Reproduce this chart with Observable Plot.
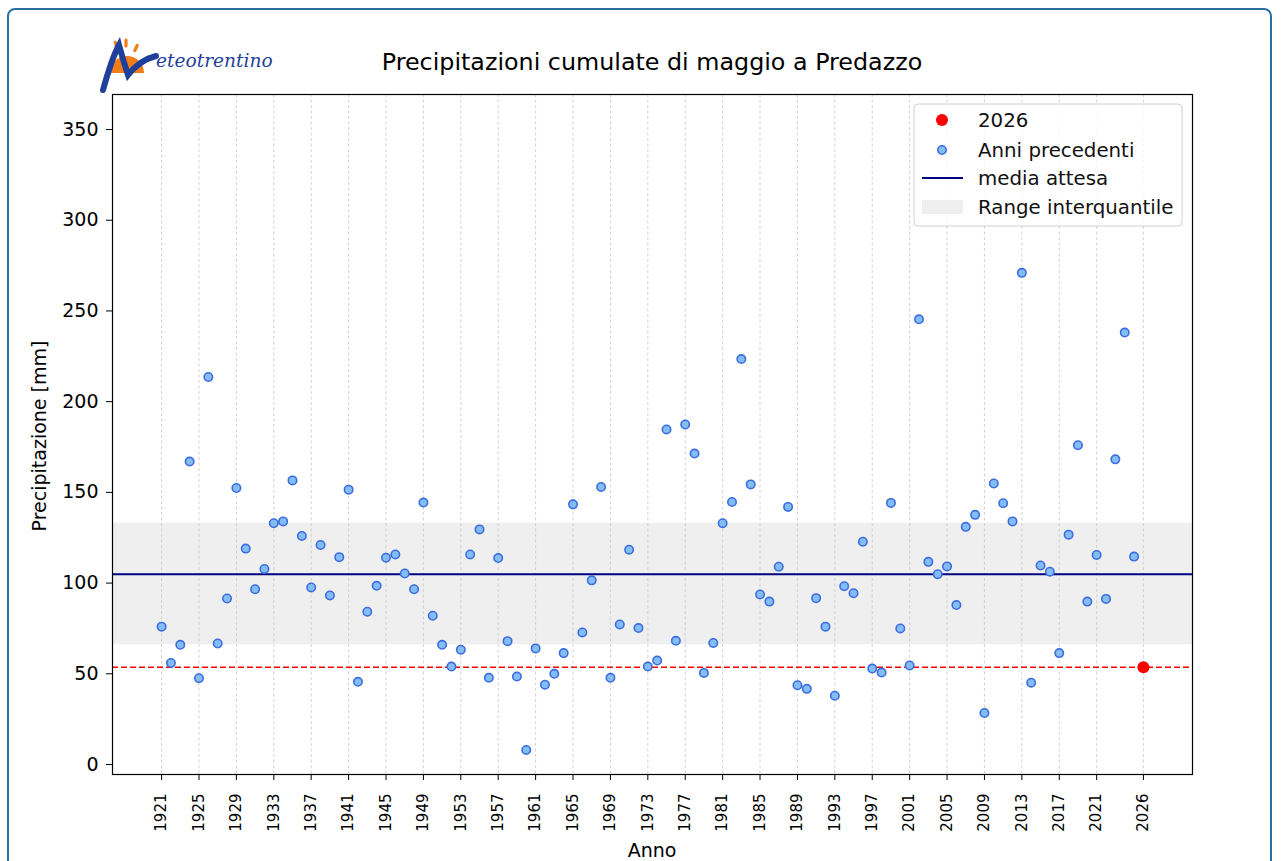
<!DOCTYPE html>
<html>
<head>
<meta charset="utf-8">
<script src="https://cdn.jsdelivr.net/npm/d3@7"></script>
<script src="https://cdn.jsdelivr.net/npm/@observablehq/plot@0.6"></script>
<style>
  body { margin: 0; background: #fff; }
  #fig { position: relative; width: 1282px; height: 861px; overflow: hidden; background: #fff; font-family: "DejaVu Sans", sans-serif; }
  #border { position: absolute; left: 7px; top: 8px; width: 1265px; height: 900px; border: 2px solid #2b6f9e; border-radius: 8px; box-sizing: border-box; }
  #chart { position: absolute; left: 0; top: 0; }
  #overlay { position: absolute; left: 0; top: 0; pointer-events: none; }
</style>
</head>
<body>
<div id="fig">
  <div id="border"></div>
  <div id="chart"></div>
  <svg id="overlay" width="1282" height="861" font-family="DejaVu Sans, sans-serif"></svg>
</div>
<script>
// ---- data ----
const firstYear = 1921;
const precipitazione = [
  76, 56, 66, 167, 47.6, 213.6, 66.7, 91.5, 152.4, 119,
  96.6, 107.8, 133, 134, 156.6, 126, 97.6, 121, 93.2, 114.3,
  151.5, 45.6, 84.2, 98.5, 114, 115.8, 105.3, 96.6, 144.4, 82,
  66, 54, 63.3, 115.8, 129.6, 47.8, 113.8, 68, 48.5, 8,
  64, 44, 50, 61.4, 143.4, 72.8, 101.5, 153, 47.8, 77.2,
  118.4, 75.2, 54, 57.3, 184.7, 68.2, 187.4, 171.4, 50.5, 67,
  133, 144.7, 223.5, 154.4, 93.7, 89.8, 109, 142, 43.7, 41.7,
  91.7, 76, 37.9, 98.3, 94.4, 122.8, 52.9, 50.7, 144.2, 75,
  54.6, 245.4, 111.7, 104.9, 109.2, 87.9, 131, 137.6, 28.4, 154.9,
  144, 134, 271, 45.1, 109.7, 106.3, 61.4, 126.7, 176, 89.8,
  115.5, 91.3, 168.2, 238.1, 114.6
];
const anni = precipitazione.map((_, i) => firstYear + i);
const annoCorrente = 2026;
const valoreCorrente = 53.6;
const mediaAttesa = 104.9;
const quartileBasso = 66;
const quartileAlto = 133;
const tickAnni = [1921,1925,1929,1933,1937,1941,1945,1949,1953,1957,1961,1965,1969,1973,1977,1981,1985,1989,1993,1997,2001,2005,2009,2013,2017,2021,2026];
const tickY = [0, 50, 100, 150, 200, 250, 300, 350];
const titolo = "Precipitazioni cumulate di maggio a Predazzo";
const etichettaY = "Precipitazione [mm]";
const etichettaX = "Anno";
const legenda = ["2026", "Anni precedenti", "media attesa", "Range interquantile"];

const passati = anni.map((a, i) => ({anno: a, valore: precipitazione[i]}));
const corrente = [{anno: annoCorrente, valore: valoreCorrente}];

const chart = Plot.plot({
  width: 1282,
  height: 861,
  marginLeft: 112,
  marginRight: 90,
  marginTop: 94,
  marginBottom: 87,
  style: {fontFamily: "DejaVu Sans, sans-serif", color: "#000", background: "transparent", overflow: "visible"},
  x: {domain: [1915.75, 2031.25]},
  y: {domain: [-5.5, 369.3]},
  marks: [
    Plot.rect([{lo: quartileBasso, hi: quartileAlto}], {y1: "lo", y2: "hi", fill: "#efefef"}),
    Plot.gridX({ticks: tickAnni, stroke: "#c8c8c8", strokeOpacity: 1, strokeWidth: 0.8, strokeDasharray: "3,2.5"}),
    Plot.ruleY([mediaAttesa], {stroke: "#000080", strokeWidth: 2}),
    Plot.ruleY([valoreCorrente], {stroke: "#ff0000", strokeWidth: 1.4, strokeDasharray: "6,3"}),
    Plot.dot(passati, {x: "anno", y: "valore", r: 4.2, fill: "#84bdf4", stroke: "#3c6de0", strokeWidth: 1.6}),
    Plot.dot(corrente, {x: "anno", y: "valore", r: 6, fill: "#ff0000"}),
    Plot.axisY({ticks: tickY, tickSize: 6, tickPadding: 8, fontSize: 19, label: null}),
    Plot.axisX({ticks: tickAnni, tickFormat: d => String(d), tickSize: 6, tickPadding: 13, tickRotate: -90, fontSize: 15, label: null}),
    Plot.frame({stroke: "#000", strokeWidth: 1.2})
  ]
});
document.getElementById("chart").appendChild(chart);

// ---- overlay: title, axis labels, legend, logo ----
const svg = d3.select("#overlay");
svg.append("text").attr("x", 652).attr("y", 70).attr("text-anchor", "middle")
  .attr("font-size", 23.8).attr("fill", "#000").text(titolo);
svg.append("text").attr("x", 652).attr("y", 857).attr("text-anchor", "middle")
  .attr("font-size", 19).attr("fill", "#000").text(etichettaX);
svg.append("text").attr("transform", "translate(45.5,436) rotate(-90)").attr("text-anchor", "middle")
  .attr("font-size", 19).attr("fill", "#000").text(etichettaY);

// legend
const lg = svg.append("g");
lg.append("rect").attr("x", 914).attr("y", 104).attr("width", 268).attr("height", 122).attr("rx", 4)
  .attr("fill", "#fff").attr("fill-opacity", 0.8).attr("stroke", "#d0d0d0");
const rowsY = [120, 150, 178, 207];
lg.append("circle").attr("cx", 942).attr("cy", rowsY[0]).attr("r", 6).attr("fill", "#ff0000");
lg.append("circle").attr("cx", 942).attr("cy", rowsY[1]).attr("r", 4.2).attr("fill", "#84bdf4").attr("stroke", "#3c6de0").attr("stroke-width", 1.6);
lg.append("line").attr("x1", 922).attr("x2", 963).attr("y1", rowsY[2]).attr("y2", rowsY[2]).attr("stroke", "#000080").attr("stroke-width", 2);
lg.append("rect").attr("x", 922).attr("y", rowsY[3] - 7).attr("width", 41).attr("height", 14).attr("fill", "#efefef");
legenda.forEach((t, i) => {
  lg.append("text").attr("x", 978).attr("y", rowsY[i]).attr("dy", "0.36em").attr("font-size", 19.8).attr("fill", "#111").text(t);
});

// logo
const lo = svg.append("g");
[[116, 45, -15], [126, 43, 0], [136, 48, 25]].forEach(([x, y, a]) => {
  lo.append("rect").attr("x", x - 1.6).attr("y", y - 4.5).attr("width", 3.2).attr("height", 9).attr("rx", 1.6)
    .attr("fill", "#f07d1a").attr("transform", `rotate(${a},${x},${y})`);
});
lo.append("path").attr("d", "M110,73 A17,17 0 0 1 144,73 Z").attr("fill", "#f07d1a");
lo.append("path").attr("d", "M103,90 C108,72 113,56 119,45 C122,56 125,66 128,75 C135,66 144,59 156,56")
  .attr("fill", "none").attr("stroke", "#1e3f9a").attr("stroke-width", 6).attr("stroke-linecap", "round");
lo.append("text").attr("x", 156).attr("y", 67).attr("font-family", "DejaVu Serif, serif").attr("font-style", "italic")
  .attr("font-size", 18.6).attr("fill", "#1e3f9a").text("eteotrentino");
</script>
</body>
</html>
